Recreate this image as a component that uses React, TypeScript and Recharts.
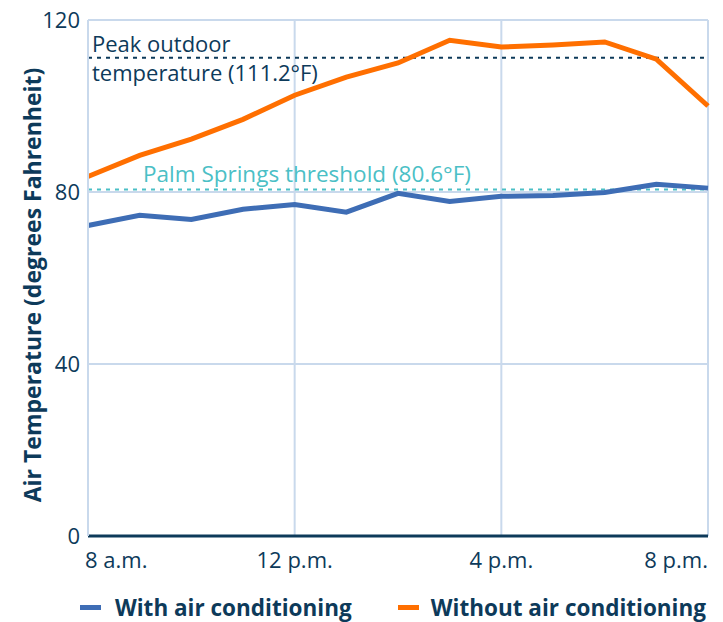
import {
  CartesianGrid,
  Legend,
  Line,
  LineChart,
  ReferenceLine,
  XAxis,
  YAxis,
} from "recharts";

const hours = [8, 9, 10, 11, 12, 13, 14, 15, 16, 17, 18, 19, 20];
const withAC = [72.2, 74.6, 73.6, 76, 77.1, 75.3, 79.7, 77.8, 79, 79.2, 79.9, 81.8, 80.9];
const withoutAC = [83.6, 88.5, 92.3, 96.9, 102.5, 106.7, 110, 115.3, 113.7, 114.2, 114.9, 110.9, 100];
const xTicks = [8, 12, 16, 20];
const xTickLabels = ["8 a.m.", "12 p.m.", "4 p.m.", "8 p.m."];
const yTicks = [0, 40, 80, 120];
const peakTemp = 111.2;
const threshold = 80.6;

const data = hours.map((h, i) => ({ hour: h, withAC: withAC[i], withoutAC: withoutAC[i] }));

const NAVY = "#0d3a5a";
const BLUE = "#3e6db5";
const ORANGE = "#ff6f00";
const TEAL = "#4bbfc6";
const GRID = "#c9d9ec";
const FONT = "'Open Sans', sans-serif";

const XTick = (props: any) => {
  const { x, y, payload, index } = props;
  const i = xTicks.indexOf(payload.value);
  const anchor = index === 0 ? "start" : index === xTicks.length - 1 ? "end" : "middle";
  const dx = index === 0 ? -3 : 0;
  return (
    <text x={x + dx} y={y} dy="0.71em" textAnchor={anchor} fill={NAVY} fontSize={22} fontFamily={FONT}>
      {xTickLabels[i]}
    </text>
  );
};

const PeakLabel = (props: any) => {
  const { viewBox } = props;
  return (
    <text x={viewBox.x + 4} y={viewBox.y} fill={NAVY} fontSize={22} fontFamily={FONT}>
      <tspan x={viewBox.x + 4} dy={-6}>Peak outdoor</tspan>
      <tspan x={viewBox.x + 4} dy={29}>temperature (111.2°F)</tspan>
    </text>
  );
};

const ThresholdLabel = (props: any) => {
  const { viewBox } = props;
  return (
    <text x={viewBox.x + 55} y={viewBox.y - 7} fill={TEAL} fontSize={22.5} fontFamily={FONT}>
      Palm Springs threshold (80.6°F)
    </text>
  );
};

const YLabel = (props: any) => {
  const { viewBox } = props;
  const cx = 32;
  const cy = viewBox.y + viewBox.height / 2 + 7;
  return (
    <text x={cx} y={cy} transform={`rotate(-90, ${cx}, ${cy})`} textAnchor="middle" dominantBaseline="central" fill={NAVY} fontSize={23} fontWeight={700} fontFamily={FONT}>
      Air Temperature (degrees Fahrenheit)
    </text>
  );
};

const LegendContent = () => (
  <div style={{ display: "flex", justifyContent: "space-between", paddingLeft: 80, paddingRight: 2, paddingTop: 6, fontFamily: FONT, fontWeight: 700, fontSize: 22.5, color: NAVY }}>
    <div style={{ display: "flex", alignItems: "center" }}>
      <span style={{ display: "inline-block", width: 21, height: 5, background: BLUE, marginRight: 14 }} />
      With air conditioning
    </div>
    <div style={{ display: "flex", alignItems: "center" }}>
      <span style={{ display: "inline-block", width: 21, height: 5, background: ORANGE, marginRight: 12 }} />
      Without air conditioning
    </div>
  </div>
);

const App: React.FC = () => {
  return (
    <div style={{ position: "absolute", left: 0, top: 0 }}>
      <LineChart width={723} height={622} data={data} margin={{ top: 20, right: 15, left: 0, bottom: 0 }}>
        <CartesianGrid stroke={GRID} strokeWidth={2} />
        <XAxis
          dataKey="hour"
          type="number"
          domain={[8, 20]}
          ticks={xTicks}
          tick={<XTick />}
          tickLine={false}
          axisLine={{ stroke: NAVY, strokeWidth: 3 }}
          tickMargin={10}
          height={50}
        />
        <YAxis
          type="number"
          domain={[0, 120]}
          ticks={yTicks}
          width={88}
          tickLine={false}
          axisLine={{ stroke: GRID, strokeWidth: 2 }}
          tick={{ fill: NAVY, fontSize: 22, fontFamily: FONT }}
          label={<YLabel />}
        />
        <ReferenceLine y={peakTemp} stroke={NAVY} strokeWidth={2} strokeDasharray="4 5" label={<PeakLabel />} />
        <ReferenceLine y={threshold} stroke={TEAL} strokeWidth={2} strokeDasharray="4 5" label={<ThresholdLabel />} />
        <Line type="linear" dataKey="withAC" stroke={BLUE} strokeWidth={5} dot={false} isAnimationActive={false} />
        <Line type="linear" dataKey="withoutAC" stroke={ORANGE} strokeWidth={5} dot={false} isAnimationActive={false} />
        <Legend verticalAlign="bottom" height={36} content={<LegendContent />} />
      </LineChart>
    </div>
  );
};

export default App;
